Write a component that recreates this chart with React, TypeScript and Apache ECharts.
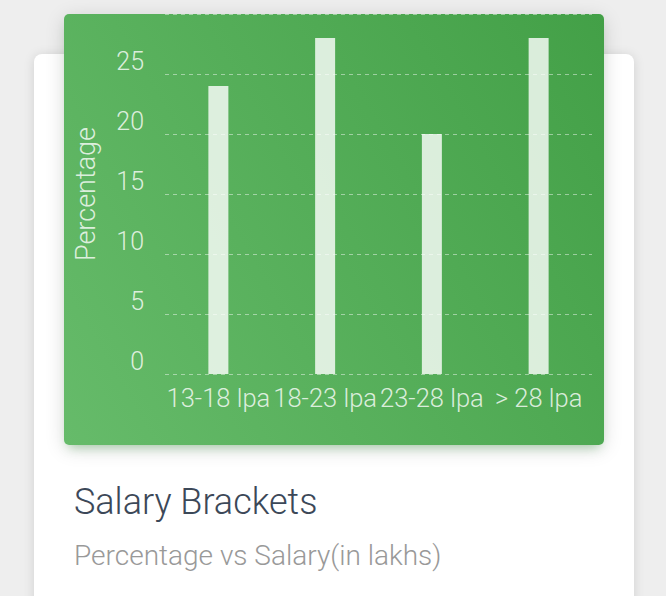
import React from 'react';
import * as echarts from 'echarts';

const categories = ['13-18 lpa', '18-23 lpa', '23-28 lpa', '> 28 lpa'];
const percentages = [24, 28, 20, 28];
const yTicks = [0, 5, 10, 15, 20, 25, 30];

const labelColor = 'rgba(255,255,255,0.8)';
const fontFamily = '"Roboto Light", Roboto, "Noto Sans", sans-serif';

const SalaryChart = () => {
  const chartRef = React.useRef<HTMLDivElement>(null);

  React.useEffect(() => {
    if (!chartRef.current) return;
    const chart = echarts.init(chartRef.current, undefined, { renderer: 'svg' });

    chart.setOption({
      animation: false,
      textStyle: { fontFamily, fontWeight: 300 },
      grid: { left: 100, right: 12, top: 0, bottom: 71 },
      xAxis: {
        type: 'category',
        data: categories,
        axisLine: { show: false },
        axisTick: { show: false },
        axisLabel: {
          color: labelColor,
          fontSize: 25.5,
          fontWeight: 300,
          fontFamily,
          margin: 11,
          interval: 0,
        },
      },
      yAxis: {
        type: 'value',
        min: yTicks[0],
        max: yTicks[yTicks.length - 1],
        interval: 5,
        name: 'Percentage',
        nameLocation: 'middle',
        nameGap: 66,
        nameRotate: 90,
        nameTextStyle: {
          color: labelColor,
          fontSize: 27,
          fontWeight: 300,
          fontFamily,
        },
        axisLine: { show: false },
        axisTick: { show: false },
        axisLabel: {
          color: labelColor,
          fontSize: 25,
          fontWeight: 300,
          fontFamily,
          margin: 21,
          verticalAlign: 'bottom',
          showMaxLabel: false,
        },
        splitLine: {
          lineStyle: { color: 'rgba(255,255,255,0.45)', type: [4, 4], width: 1 },
        },
      },
      series: [
        {
          type: 'bar',
          data: percentages,
          barWidth: 20,
          itemStyle: { color: 'rgba(255,255,255,0.8)' },
        },
      ],
    });

    return () => {
      chart.dispose();
    };
  }, []);

  return <div ref={chartRef} style={{ width: 540, height: 431 }} />;
};

export default function App() {
  return (
    <div
      style={{
        position: 'fixed',
        left: 0,
        top: 0,
        width: 666,
        height: 596,
        overflow: 'hidden',
        background: '#eeeeee',
        fontFamily,
      }}
    >
      <div
        style={{
          position: 'absolute',
          left: 34,
          top: 54,
          width: 600,
          height: 600,
          background: '#fff',
          borderRadius: 8,
          boxShadow: '0 1px 12px 0 rgba(0,0,0,0.12)',
        }}
      />
      <div
        style={{
          position: 'absolute',
          left: 64,
          top: 14,
          width: 540,
          height: 431,
          borderRadius: 5,
          background: 'linear-gradient(60deg, #66bb6a, #43a047)',
          boxShadow:
            '0 4px 20px 0 rgba(0,0,0,0.14), 0 7px 10px -5px rgba(76,175,80,0.4)',
        }}
      >
        <SalaryChart />
      </div>
      <div
        style={{
          position: 'absolute',
          left: 74,
          top: 478,
          fontSize: 36,
          fontWeight: 300,
          color: '#3c4858',
          lineHeight: '48px',
          whiteSpace: 'nowrap',
        }}
      >
        Salary Brackets
      </div>
      <div
        style={{
          position: 'absolute',
          left: 74,
          top: 536,
          fontSize: 28,
          fontWeight: 300,
          color: '#999999',
          lineHeight: '40px',
          whiteSpace: 'nowrap',
        }}
      >
        Percentage vs Salary(in lakhs)
      </div>
    </div>
  );
}
